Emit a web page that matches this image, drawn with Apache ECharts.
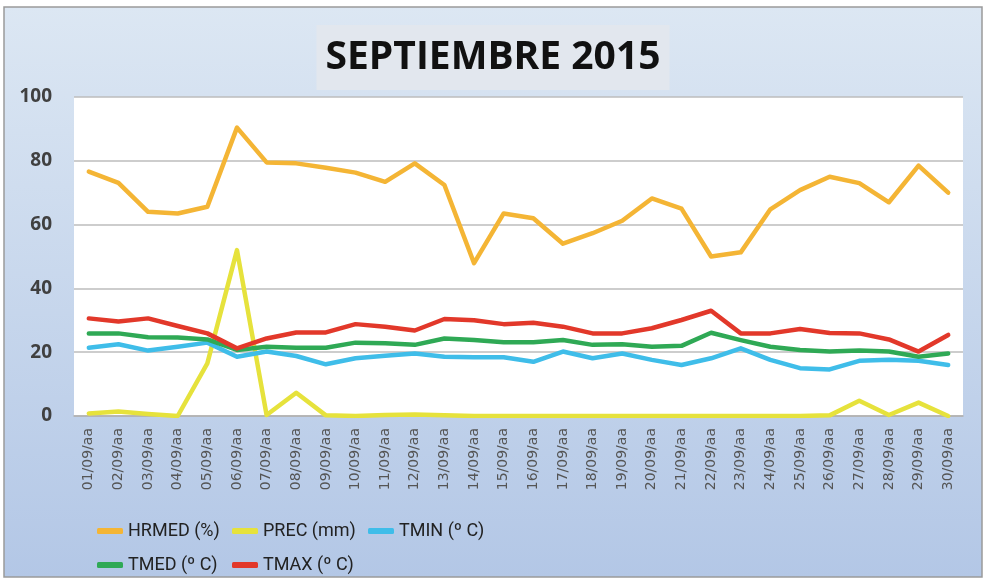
<!DOCTYPE html>
<html>
<head>
<meta charset="utf-8">
<script src="https://cdn.jsdelivr.net/npm/echarts@6/dist/echarts.min.js"></script>
<style>
  html, body { margin: 0; padding: 0; background: #fff; }
  #main { width: 986px; height: 580px; }
</style>
</head>
<body>
<div id="main"></div>
<script>
var myChart = echarts.init(document.getElementById('main'));

// dias del mes
var dias = ['01/09/aa','02/09/aa','03/09/aa','04/09/aa','05/09/aa','06/09/aa','07/09/aa','08/09/aa','09/09/aa','10/09/aa',
  '11/09/aa','12/09/aa','13/09/aa','14/09/aa','15/09/aa','16/09/aa','17/09/aa','18/09/aa','19/09/aa','20/09/aa',
  '21/09/aa','22/09/aa','23/09/aa','24/09/aa','25/09/aa','26/09/aa','27/09/aa','28/09/aa','29/09/aa','30/09/aa'];

var hrmed = [76.6, 73.1, 64, 63.5, 65.6, 90.4, 79.5, 79.2, 77.8, 76.3,
  73.4, 79.2, 72.4, 47.9, 63.5, 62, 54, 57.3, 61.2, 68.2,
  65, 50, 51.3, 64.8, 70.8, 75, 73, 67, 78.5, 70];
var prec = [0.8, 1.4, 0.6, 0, 16.5, 52, 0.3, 7.3, 0.2, 0,
  0.3, 0.5, 0.2, 0, 0, 0, 0, 0, 0, 0,
  0, 0, 0, 0, 0, 0.2, 4.8, 0.3, 4.2, 0];
var tmin = [21.4, 22.5, 20.5, 21.7, 23, 18.6, 20.2, 18.8, 16.2, 18.1,
  18.9, 19.6, 18.6, 18.4, 18.4, 17, 20.2, 18.1, 19.6, 17.6,
  16, 18.1, 21.2, 17.6, 15, 14.6, 17.3, 17.6, 17.3, 16];
var tmed = [25.9, 25.9, 24.7, 24.6, 24, 20.7, 21.7, 21.4, 21.4, 23,
  22.8, 22.3, 24.3, 23.8, 23.1, 23.1, 23.8, 22.3, 22.5, 21.7,
  22, 26.1, 23.8, 21.7, 20.7, 20.2, 20.5, 20.2, 18.6, 19.6];
var tmax = [30.6, 29.6, 30.6, 28.2, 25.9, 21.2, 24.3, 26.2, 26.2, 28.8,
  28, 26.8, 30.4, 30, 28.8, 29.2, 28, 25.9, 25.9, 27.5,
  30.1, 33, 25.9, 25.9, 27.3, 26, 25.9, 24, 20.2, 25.4];

var yTicks = [0, 20, 40, 60, 80, 100];

var nombres = ['HRMED (%)', 'PREC (mm)', 'TMIN (º C)', 'TMED (º C)', 'TMAX (º C)'];
var colores = ['#f4b535', '#e6e23c', '#3fbde9', '#2fa955', '#e2382a'];
var datos = [hrmed, prec, tmin, tmed, tmax];

var series = [];
for (var i = 0; i < nombres.length; i++) {
  series.push({
    name: nombres[i],
    type: 'line',
    data: datos[i],
    showSymbol: false,
    symbol: 'none',
    lineStyle: { color: colores[i], width: 4.5, cap: 'round', join: 'round' },
    itemStyle: { color: colores[i] },
    z: 2 + i
  });
}

// una leyenda por serie, en dos filas como el original
var legLeft = [97, 232, 368, 97, 232];
var legTop = [519, 519, 519, 553, 553];
var legends = [];
for (var j = 0; j < nombres.length; j++) {
  legends.push({
    data: [nombres[j]],
    left: legLeft[j],
    top: legTop[j],
    itemWidth: 26,
    itemHeight: 6,
    itemGap: 0,
    icon: 'roundRect',
    padding: 0,
    textStyle: {
      fontFamily: 'Roboto',
      fontSize: 18,
      color: '#222',
      lineHeight: 24
    }
  });
}

option = {
  backgroundColor: '#fff',
  animation: false,
  graphic: [
    {
      type: 'rect',
      z: -10,
      shape: { x: 4, y: 7, width: 978, height: 570 },
      style: {
        fill: new echarts.graphic.LinearGradient(0, 0, 0, 1, [
          { offset: 0, color: '#dce7f3' },
          { offset: 1, color: '#b3c7e6' }
        ]),
        stroke: '#9a9a9a',
        lineWidth: 1.5
      }
    }
  ],
  title: {
    text: 'SEPTIEMBRE 2015',
    left: 'center',
    top: 25,
    padding: [10, 9, 10, 9],
    backgroundColor: '#e2e7ee',
    textStyle: {
      fontFamily: 'Open Sans',
      fontWeight: 'bold',
      fontSize: 39,
      lineHeight: 45,
      color: '#111'
    }
  },
  grid: {
    left: 74,
    right: 23,
    top: 97,
    bottom: 164,
    show: true,
    backgroundColor: '#fff',
    borderWidth: 0
  },
  legend: legends,
  xAxis: {
    type: 'category',
    data: dias,
    boundaryGap: true,
    axisTick: { show: false },
    axisLine: { lineStyle: { color: '#b0b0b0', width: 1.5 } },
    axisLabel: {
      rotate: 90,
      margin: 12,
      interval: 0,
      fontFamily: 'DejaVu Sans',
      fontSize: 14,
      color: '#555'
    }
  },
  yAxis: {
    type: 'value',
    min: yTicks[0],
    max: yTicks[yTicks.length - 1],
    interval: 20,
    axisLine: { show: false },
    axisTick: { show: false },
    axisLabel: {
      margin: 22,
      fontFamily: 'Open Sans',
      fontWeight: 'bold',
      fontSize: 19,
      color: '#404040'
    },
    splitLine: { lineStyle: { color: '#bdbdbd', width: 1.5 } }
  },
  series: series
};

myChart.setOption(option);
window.onresize = function () {
  myChart.resize();
};
</script>
</body>
</html>
